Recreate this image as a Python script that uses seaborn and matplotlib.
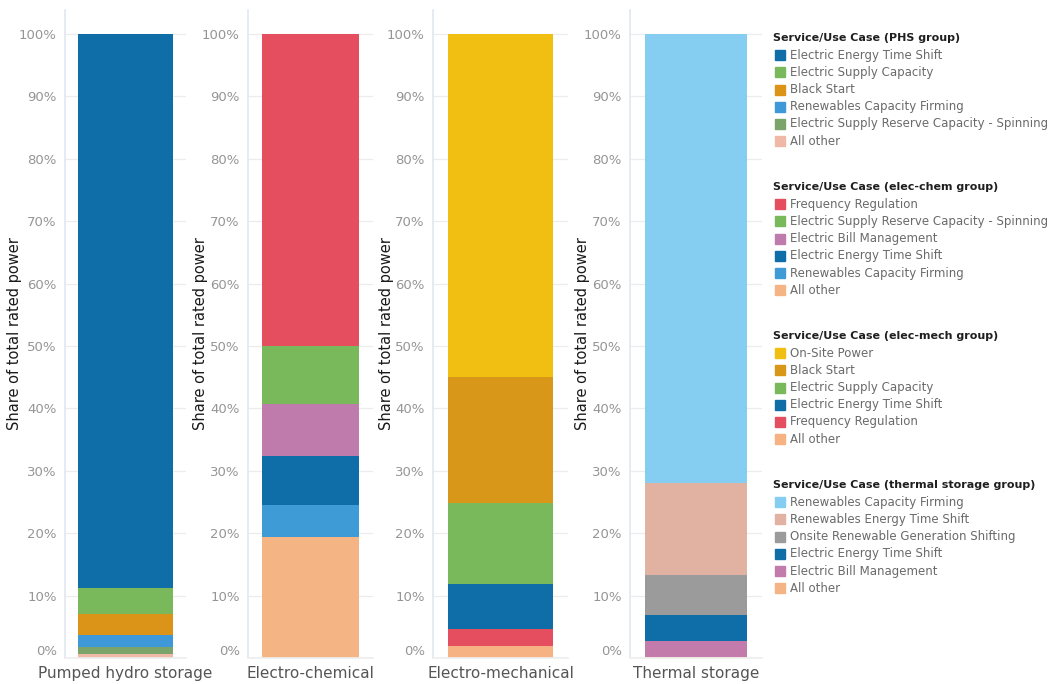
import matplotlib
matplotlib.use("Agg")
import matplotlib.pyplot as plt
from matplotlib.patches import Rectangle
import numpy as np
import pandas as pd
import seaborn as sns

# Technology groups (x-axis categories)
technologies = ["Pumped hydro storage", "Electro-chemical", "Electro-mechanical", "Thermal storage"]

# Service/use-case shares (% of total rated power), listed top of stack first
phs_labels = ["Electric Energy Time Shift", "Electric Supply Capacity", "Black Start",
              "Renewables Capacity Firming", "Electric Supply Reserve Capacity - Spinning", "All other"]
phs_values = [88.8, 4.2, 3.3, 2.0, 1.1, 0.6]
phs_colors = ["#0f6ea8", "#79b95b", "#dc9418", "#3f98d8", "#7ba46b", "#f0b8a6"]

chem_labels = ["Frequency Regulation", "Electric Supply Reserve Capacity - Spinning", "Electric Bill Management",
               "Electric Energy Time Shift", "Renewables Capacity Firming", "All other"]
chem_values = [50.0, 9.3, 8.3, 7.9, 5.1, 19.4]
chem_colors = ["#e44e5f", "#79b95b", "#bf7bab", "#0f6ea8", "#3f9bd6", "#f5b484"]

mech_labels = ["On-Site Power", "Black Start", "Electric Supply Capacity",
               "Electric Energy Time Shift", "Frequency Regulation", "All other"]
mech_values = [55.0, 20.2, 12.9, 7.3, 2.7, 1.9]
mech_colors = ["#f0bf12", "#d9971a", "#79b95b", "#0f6ea8", "#e44e5f", "#f6b283"]

thermal_labels = ["Renewables Capacity Firming", "Renewables Energy Time Shift",
                  "Onsite Renewable Generation Shifting", "Electric Energy Time Shift",
                  "Electric Bill Management", "All other"]
thermal_values = [72.0, 14.7, 6.4, 4.1, 2.6, 0.2]
thermal_colors = ["#86cdf2", "#e1b1a1", "#9b9b9b", "#0f6ea8", "#c27baa", "#f5b484"]

group_titles = ["Service/Use Case (PHS group)", "Service/Use Case (elec-chem group)",
                "Service/Use Case (elec-mech group)", "Service/Use Case (thermal storage group)"]

y_ticks = [0, 10, 20, 30, 40, 50, 60, 70, 80, 90, 100]
y_tick_labels = [f"{v}%" for v in y_ticks]

groups = [
    (phs_labels, phs_values, phs_colors),
    (chem_labels, chem_values, chem_colors),
    (mech_labels, mech_values, mech_colors),
    (thermal_labels, thermal_values, thermal_colors),
]

sns.set_theme(style="white")
plt.rcParams["font.family"] = ["DejaVu Sans"]

W, H = 1054, 684
fig = plt.figure(figsize=(W / 100, H / 100), dpi=100)

# axes extents in pixels: (left, right), and the x position of each y-axis title
axes_px = [(65, 186), (248, 373), (433, 568), (630, 762)]
ylabel_px = [15, 200, 386, 583]
y_top_px, y_bottom_px = 10, 658
ymax = 100 * (y_bottom_px - y_top_px) / (658 - 34)

for (tech, (labels, values, colors), (l, r), lx) in zip(technologies, groups, axes_px, ylabel_px):
    ax = fig.add_axes([l / W, 1 - y_bottom_px / H, (r - l) / W, (y_bottom_px - y_top_px) / H])
    df = pd.DataFrame({"service": labels, "share": values, "color": colors})
    # cumulative heights measured from the bottom of the stack
    df["top"] = df["share"][::-1].cumsum()[::-1]
    # draw tallest first so shorter cumulative bars sit in front
    for _, row in df.iterrows():
        sns.barplot(x=[tech], y=[row["top"]], color=row["color"], saturation=1,
                    width=0.78, ax=ax, linewidth=0, zorder=2)
    ax.set_xlim(-0.5, 0.5)
    ax.set_ylim(0, ymax)
    ax.set_yticks(y_ticks)
    ax.set_yticklabels(y_tick_labels)
    ax.get_yticklabels()[0].set_va("bottom")
    ax.yaxis.grid(True, color="#ececec", linewidth=0.9, zorder=0)
    ax.set_axisbelow(True)
    ax.tick_params(axis="y", length=0, pad=6, labelsize=9.5, labelcolor="#959595")
    ax.tick_params(axis="x", length=0, pad=6, labelsize=11, labelcolor="#555555")
    for s in ["top", "right"]:
        ax.spines[s].set_visible(False)
    ax.spines["left"].set_color("#e3e9f0")
    ax.spines["bottom"].set_color("#eeeeee")
    ax.set_xlabel("")
    ax.set_ylabel("Share of total rated power", fontsize=10.5, color="#1a1a1a")
    ax.yaxis.label.set_va("center")
    ax.yaxis.set_label_coords((lx - l) / (r - l), 0.5)

# grouped legends on the right
title_y = [38, 187, 336, 485]
step = 17.2
for ty, title, (labels, values, colors) in zip(title_y, group_titles, groups):
    fig.text(773 / W, 1 - ty / H, title, fontsize=8.0, color="#1f1f1f",
             fontweight="bold", va="center", ha="left")
    for i, (lab, col) in enumerate(zip(labels, colors)):
        yy = ty + step * (i + 1)
        fig.patches.append(Rectangle((775 / W, 1 - (yy + 5) / H), 10 / W, 10 / H,
                                     transform=fig.transFigure, color=col, figure=fig))
        fig.text(790 / W, 1 - yy / H, lab, fontsize=8.5, color="#6a6a6a",
                 va="center", ha="left")

fig.savefig("out.png", dpi=100)
